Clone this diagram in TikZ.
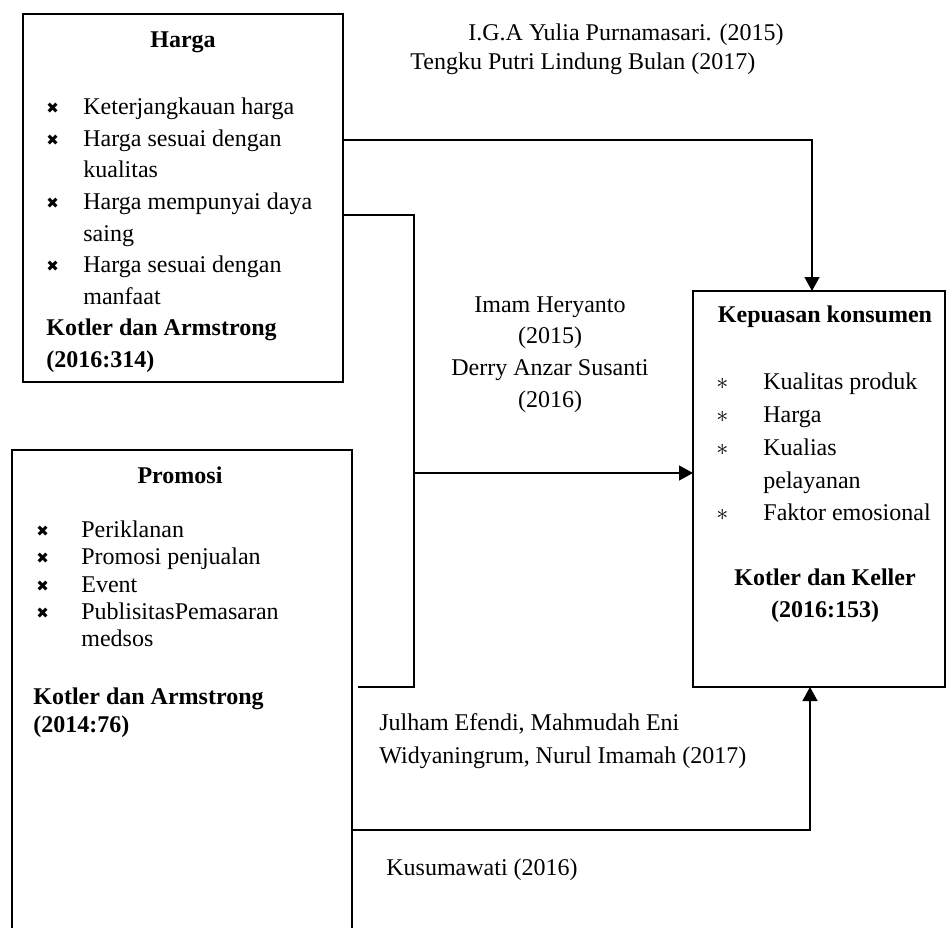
\documentclass[tikz,border=0pt]{standalone}
\usepackage{fontspec}
\setmainfont{Liberation Serif}
\newfontfamily\symfont{DejaVu Sans}
\usetikzlibrary{positioning,arrows.meta}
\tikzset{box node/.style={draw,line width=1.2pt,rectangle,inner sep=0pt,outer sep=0pt,anchor=north west},
         text node/.style={inner sep=0pt,font=\fontsize{12}{15.8}\selectfont},
         link/.style={line width=0.7pt},
         link arrow/.style={link,-{Triangle[length=7pt,width=7.5pt]}},
            }
\newcommand{\xmark}[1]{\makebox[#1][l]{\raisebox{0.6pt}{\symfont\fontsize{7.5}{7.5}\selectfont ✖}}}
\newcommand{\astmark}{\makebox[23.5pt][l]{$\ast$}}

\begin{document}
\begin{tikzpicture}[x=0.5pt,y=-0.5pt]
    \useasboundingbox (0,0) rectangle (947,927);

    % boxes
    \node[box node,minimum width=160pt,minimum height=184pt] (harga) at (23,14) {};
    \node[box node,minimum width=126pt,minimum height=198pt] (kepuasan) at (693,291) {};
    \node[box node,minimum width=170pt,minimum height=250pt] (promosi) at (12,450) {};

    % harga
    \node[text node,font=\fontsize{12}{15.8}\selectfont\bfseries] (hargatitle) at (183,42) {Harga};
    \node[text node,anchor=north west,align=left] (hargalist) at (46,97.6)
        {\xmark{18.5pt}Keterjangkauan harga\\
         \xmark{18.5pt}Harga sesuai dengan\\
         \hspace*{18.5pt}kualitas\\
         \xmark{18.5pt}Harga mempunyai daya\\
         \hspace*{18.5pt}saing\\
         \xmark{18.5pt}Harga sesuai dengan\\
         \hspace*{18.5pt}manfaat\\
         \textbf{Kotler dan Armstrong}\\
         \textbf{(2016:314)}};

    % kepuasan konsumen
    \node[text node,font=\fontsize{12}{15.8}\selectfont\bfseries] (keptitle) at (825,317) {Kepuasan konsumen};
    \node[text node,anchor=north west,align=left,font=\fontsize{12}{16.4}\selectfont] (keplist) at (716,372.6)
        {\astmark Kualitas produk\\
         \astmark Harga\\
         \astmark Kualias\\
         \hspace*{23.5pt}pelayanan\\
         \astmark Faktor emosional};
    \node[text node,anchor=north,align=center,font=\fontsize{12}{16}\selectfont\bfseries] (kepsrc) at (825,568.4)
        {Kotler dan Keller\\(2016:153)};

    % promosi
    \node[text node,font=\fontsize{12}{15.8}\selectfont\bfseries] (promtitle) at (180,475) {Promosi};
    \node[text node,anchor=north west,align=left,font=\fontsize{12}{13.65}\selectfont] (promlist) at (36,520.6)
        {\xmark{22.5pt}Periklanan\\
         \xmark{22.5pt}Promosi penjualan\\
         \xmark{22.5pt}Event\\
         \xmark{22.5pt}PublisitasPemasaran\\
         \hspace*{22.5pt}medsos};
    \node[text node,anchor=north west,align=left,font=\fontsize{12}{14}\selectfont\bfseries] (promsrc) at (33,687.4)
        {Kotler dan Armstrong\\(2014:76)};

    % references on the links
    \node[text node,anchor=base west] (ref1) at (468,40) {I.G.A Yulia Purnamasari. (2015)};
    \node[text node,anchor=base west] (ref2) at (410,69) {Tengku Putri Lindung Bulan (2017)};
    \node[text node,anchor=north,align=center,font=\fontsize{12}{15.9}\selectfont] (ref3) at (550,296)
        {Imam Heryanto\\(2015)\\Derry Anzar Susanti\\(2016)};
    \node[text node,anchor=north west,align=left,font=\fontsize{12}{16.5}\selectfont] (ref4) at (379,713.6)
        {Julham Efendi, Mahmudah Eni\\Widyaningrum, Nurul Imamah (2017)};
    \node[text node,anchor=base west] (ref5) at (386,875) {Kusumawati (2016)};

    % links
    \coordinate (hargaA) at ([yshift=-63pt]harga.north east);
    \coordinate (hargaB) at ([yshift=-100.5pt]harga.north east);
    \coordinate (joinTop) at (414,215);
    \coordinate (joinMid) at (414,473);
    \coordinate (joinBot) at (414,687);
    \coordinate (promA) at (358,687);
    \coordinate (promB) at ([yshift=-190pt]promosi.north east);
    \coordinate (kepTop) at ([xshift=59.5pt]kepuasan.north west);
    \coordinate (kepBot) at ([xshift=58.5pt]kepuasan.south west);

    \draw[link arrow] (hargaA) -| (kepTop);
    \draw[link] (hargaB) -- (joinTop) -- (joinBot) -- (promA);
    \draw[link arrow] (joinMid) -- (kepuasan.west |- joinMid);
    \draw[link arrow] (promB) -| (kepBot);
\end{tikzpicture}
\end{document}
